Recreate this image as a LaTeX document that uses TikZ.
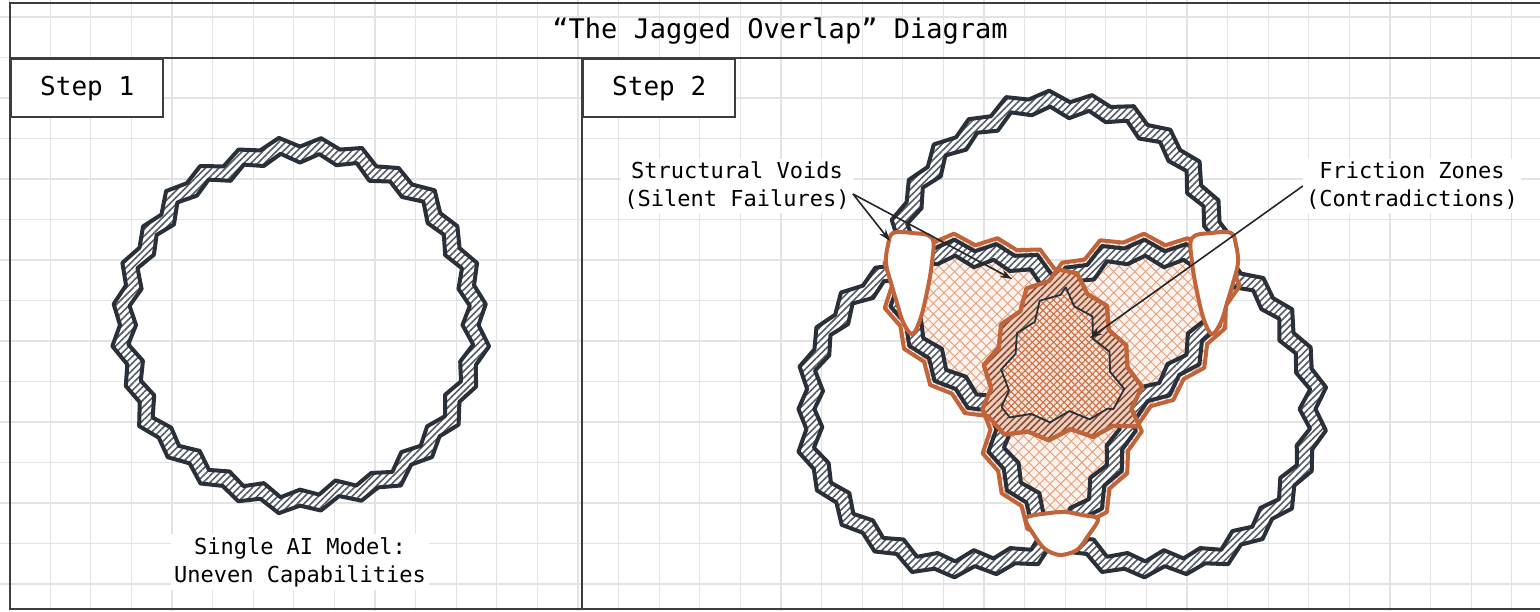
\documentclass[tikz,border=0pt]{standalone}
\usepackage{fontspec}
\setmainfont{DejaVu Sans Mono}
\usetikzlibrary{patterns.meta,arrows.meta}
\definecolor{gridc}{HTML}{E3E3E6}
\definecolor{framec}{HTML}{3A3D42}
\definecolor{ringc}{HTML}{29303A}
\definecolor{hatchc}{HTML}{555C64}
\definecolor{orc}{HTML}{C2643A}
\definecolor{lensbg}{HTML}{FDF3EC}
\definecolor{lensln}{HTML}{E0A080}
\definecolor{tribg}{HTML}{F9E4D8}
\definecolor{triln}{HTML}{C96E45}
\definecolor{bandbg}{HTML}{F1CDB9}
\definecolor{bandln}{HTML}{7E4A35}
% jagged closed path: cx, cy, r, last index (2N-1), amplitude
\newcommand{\zz}[5]{plot[variable=\q, samples at={0,...,#4}] ({#1+(#3+1.5*sin(53*\q)+#5*(2*mod(\q,2)-1)*(1+0.35*sin(97*\q)))*cos(\q*(360/(#4+1)))}, {#2+(#3+1.5*sin(53*\q)+#5*(2*mod(\q,2)-1)*(1+0.35*sin(97*\q)))*sin(\q*(360/(#4+1)))}) -- cycle}
\newcommand{\jring}[4]{%
  \fill[white, even odd rule] \zz{#1}{#2}{#3+8}{#4}{4.5} \zz{#1}{#2}{#3-8}{#4}{4.5};
  \fill[pattern={Lines[angle=45,distance=4.8pt,line width=1.6pt]}, pattern color=hatchc, even odd rule] \zz{#1}{#2}{#3+8}{#4}{4.5} \zz{#1}{#2}{#3-8}{#4}{4.5};
  \draw[ringc, line width=4pt, line join=round] \zz{#1}{#2}{#3+8}{#4}{4.5} \zz{#1}{#2}{#3-8}{#4}{4.5};
}
% enlarged (orange) versions of the three step-2 circles
\newcommand{\TP}{\zz{1060}{263}{174}{49}{4.5}}
\newcommand{\LP}{\zz{965}{409}{171}{49}{4.5}}
\newcommand{\RP}{\zz{1155}{409}{171}{49}{4.5}}
% shrunken versions (inner part of the triple region)
\newcommand{\TM}{\zz{1060}{263}{156}{49}{4.5}}
\newcommand{\LM}{\zz{965}{409}{153}{49}{4.5}}
\newcommand{\RM}{\zz{1155}{409}{153}{49}{4.5}}
\tikzset{
  frameline/.style={framec, line width=2.4pt},
  stepbox/.style={draw=framec, line width=2.4pt, fill=white, anchor=north west, minimum width=152pt, minimum height=58pt, inner sep=0pt, font=\fontsize{26}{30}\selectfont},
  lbl/.style={fill=white, inner sep=3pt, align=center, font=\fontsize{22}{28}\selectfont},
  arr/.style={black!85, line width=1.6pt, -{Stealth[length=12pt,width=8pt]}},
  orline/.style={orc, line width=4pt, line join=round},
  voidst/.style={orc, line width=4pt, fill=white, line join=round},
  lensfill/.style={pattern={Lines[angle=45,distance=7.5pt,line width=0.9pt]}, pattern color=lensln},
  lensfillb/.style={pattern={Lines[angle=-45,distance=7.5pt,line width=0.9pt]}, pattern color=lensln},
  trifill/.style={pattern={Lines[angle=45,distance=5pt,line width=1.1pt]}, pattern color=triln},
  trifillb/.style={pattern={Lines[angle=-45,distance=5pt,line width=1.1pt]}, pattern color=triln},
  bandfill/.style={pattern={Lines[angle=45,distance=4.8pt,line width=1.5pt]}, pattern color=bandln},
}
\begin{document}
\begin{tikzpicture}[x=1pt,y=-1pt]
\useasboundingbox (0,0) rectangle (1540,611);
\fill[white] (0,0) rectangle (1540,611);
% grid
\foreach \i in {0,...,37} \draw[gridc, line width=1.3pt] ({9.6+40.6*\i},0) -- ++(0,611);
\foreach \j in {0,...,14} \draw[gridc, line width=1.3pt] (0,{17+40.5*\j}) -- ++(1540,0);
% frame
\draw[frameline] (1542,3) -- (10,3) -- (10,609) -- (1542,609);
\draw[frameline] (10,58) -- (1542,58);
\draw[frameline] (582,58) -- (582,609);
\node (title) at (780,31) {\fontsize{27}{30}\selectfont “The Jagged Overlap” Diagram};
\node[stepbox] (s1) at (10,58) {Step 1};
\node[stepbox] (s2) at (582,58) {Step 2};

% ---- Step 1 ----
\jring{300}{325}{175}{55}
\node[lbl] (single) at (300,562) {Single AI Model:\\Uneven Capabilities};

% ---- Step 2 ----
% lens fills
\begin{scope}
  \clip \TP;
  \fill[lensbg] \LP; \fill[lensfill] \LP; \fill[lensfillb] \LP;
\end{scope}
\begin{scope}
  \clip \TP;
  \fill[lensbg] \RP; \fill[lensfill] \RP; \fill[lensfillb] \RP;
\end{scope}
\begin{scope}
  \clip \LP;
  \fill[lensbg] \RP; \fill[lensfill] \RP; \fill[lensfillb] \RP;
\end{scope}
% rings
\jring{1060}{263}{160}{49}
\jring{965}{409}{157}{49}
\jring{1155}{409}{157}{49}
% hatched orange band round the triple region
\begin{scope}
  \clip \TP; \clip \LP;
  \fill[bandbg] \RP; \fill[bandfill] \RP;
\end{scope}
% inner part of the triple region
\begin{scope}
  \clip \TM; \clip \LM;
  \fill[tribg] \RM; \fill[trifill] \RM; \fill[trifillb] \RM;
\end{scope}
\begin{scope}\clip \LM; \clip \RM; \draw[ringc, line width=1.8pt] \TM;\end{scope}
\begin{scope}\clip \TM; \clip \RM; \draw[ringc, line width=1.8pt] \LM;\end{scope}
\begin{scope}\clip \TM; \clip \LM; \draw[ringc, line width=1.8pt] \RM;\end{scope}
% orange outlines
\begin{scope}\clip \LP; \draw[orline] \TP;\end{scope}
\begin{scope}\clip \RP; \draw[orline] \TP;\end{scope}
\begin{scope}\clip \TP; \draw[orline] \LP;\end{scope}
\begin{scope}\clip \RP; \draw[orline] \LP;\end{scope}
\begin{scope}\clip \TP; \draw[orline] \RP;\end{scope}
\begin{scope}\clip \LP; \draw[orline] \RP;\end{scope}
% voids
\draw[voidst] plot[smooth cycle, tension=0.6] coordinates {(893,233) (912,233) (932,238) (932,262) (927,292) (920,320) (912,334) (903,322) (897,303) (891,283) (886,263) (888,245)};
\draw[voidst] plot[smooth cycle, tension=0.6] coordinates {(1231,233) (1212,233) (1192,238) (1192,262) (1197,292) (1204,320) (1212,334) (1221,322) (1227,303) (1233,283) (1238,263) (1236,245)};
\draw[voidst] plot[smooth cycle, tension=0.5] coordinates {(1026,518) (1050,513) (1066,512) (1082,515) (1098,519) (1088,536) (1077,550) (1060,555) (1045,549) (1034,535)};

% labels and arrows
\node[lbl] (sv) at (737,186) {Structural Voids\\(Silent Failures)};
\node[lbl] (fz) at (1412,186) {Friction Zones\\(Contradictions)};
\coordinate (svs) at (853,194);
\coordinate (voidL) at (890,241);
\coordinate (voidC) at (1012,279);
\coordinate (fric) at (1090,338);
\draw[arr] (svs) -- (voidL);
\draw[arr] (svs) -- (voidC);
\draw[arr] (fz.west) -- (fric);
\end{tikzpicture}
\end{document}
